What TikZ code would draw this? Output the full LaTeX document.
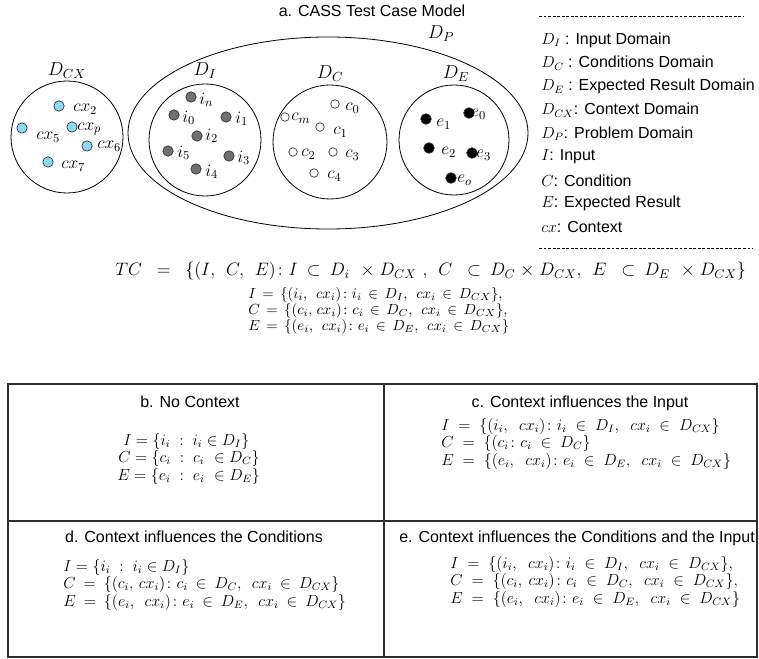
\RequirePackage{fix-cm}
\documentclass[tikz,border=0pt]{standalone}
\usepackage{amsmath,amssymb}
\usepackage{fontspec}
\setsansfont{Liberation Sans}
\usepackage{tikz}
\usetikzlibrary{positioning}
\definecolor{ctxFill}{RGB}{140,216,246}
\definecolor{inFill}{RGB}{112,112,112}
\definecolor{ruleGrey}{RGB}{45,45,45}
% thick / medium / thin math spaces, in mu
\newcommand\mathgaps[3]{\thickmuskip=#1mu\medmuskip=#2mu\thinmuskip=#3mu}

\begin{document}
\begin{tikzpicture}[x=0.75pt, y=-0.75pt,
  dom/.style={line width=0.6pt},
  spot/.style={circle, draw=black!80, line width=0.5pt, inner sep=0pt, minimum size=7.8pt},
  cxspot/.style={spot, fill=ctxFill},
  ispot/.style={spot, fill=inFill},
  cspot/.style={spot, fill=white, minimum size=6.4pt},
  espot/.style={spot, fill=black, minimum size=8pt},
  lbl/.style={anchor=west, inner sep=0pt, font=\fontsize{13}{15}\selectfont},
  dname/.style={inner sep=0pt, font=\fontsize{14}{16}\selectfont},
  caption/.style={inner sep=0pt, font=\sffamily\fontsize{12}{14}\selectfont},
  legitem/.style={anchor=west, inner sep=0pt, font=\sffamily\fontsize{12}{14}\selectfont},
  fml/.style={anchor=west, inner sep=0pt, font=\fontsize{12}{14}\selectfont},
  fmld/.style={fml, font=\fontsize{12}{14}\selectfont\mathgaps{9}{5}{6}},
  fmlwide/.style={fml, font=\fontsize{12}{14}\selectfont\mathgaps{10}{5}{7}},
  fmlsmall/.style={fml, font=\fontsize{11}{13}\selectfont\mathgaps{8}{5}{5}},
  rulesep/.style={line width=0.5pt, dash pattern=on 2.2pt off 1.2pt},
  tblline/.style={line width=0.9pt, ruleGrey}]
  \useasboundingbox (0,0) rectangle (759,659);

  % a. domains
  \node[caption] (ta) at (372,11) {a. CASS Test Case Model};
  \draw[dom] (67,137) circle[radius=56];
  \draw[dom] (328,133) ellipse[x radius=200, y radius=96];
  \draw[dom] (205,140) circle[radius=56];
  \draw[dom] (330,142) circle[radius=57];
  \draw[dom] (454,140) circle[radius=55];
  \node[dname] (nCX) at (67,71) {$D_{CX}$};
  \node[dname] (nP)  at (441,34) {$D_P$};
  \node[dname] (nI)  at (205,71) {$D_I$};
  \node[dname] (nC)  at (330,74) {$D_C$};
  \node[dname] (nE)  at (456,74) {$D_E$};

  \foreach \n/\dx/\dy/\lx/\ly in {2/59/106/73/109, 5/22/128/36/137, p/72/127/77/129, 6/87/146/97/146, 7/48/162/61/166}
  { \node[cxspot] (cx\n) at (\dx,\dy) {};
    \node[lbl] (cxl\n) at (\lx,\ly) {$cx_\n$}; }
  \foreach \n/\dx/\dy/\lx/\ly in {n/191/97/199/100, 0/174/115/182/118, 1/226/117/235/119, 2/197/136/205/136, 5/168/151/177/153, 3/229/156/237/158, 4/196/169/205/172}
  { \node[ispot] (i\n) at (\dx,\dy) {};
    \node[lbl] (il\n) at (\lx,\ly) {$i_\n$}; }
  \foreach \n/\dx/\dy/\lx/\ly in {0/335/104/345/108, m/285/117/291/118, 1/320/127/333/132, 2/293/152/301/154, 3/333/152/345/155, 4/314/173/327/176}
  { \node[cspot] (c\n) at (\dx,\dy) {};
    \node[lbl] (cl\n) at (\lx,\ly) {$c_\n$}; }
  \foreach \n/\dx/\dy/\lx/\ly in {1/426/119/436/124, 0/469/113/471/114, 2/429/148/441/152, 3/472/153/476/155, o/451/178/457/180}
  { \node[espot] (e\n) at (\dx,\dy) {};
    \node[lbl] (el\n) at (\lx,\ly) {$e_\n$}; }

  % legend
  \draw[rulesep] (539,16) -- (744,16);
  \foreach \t [count=\k from 0] in {{$D_I$ : Input Domain}, {$D_C$ : Conditions Domain},
      {$D_E$ : Expected Result Domain}, {$D_{CX}$: Context Domain}, {$D_P$: Problem Domain},
      {$I$: Input}, {$C$: Condition}, {$E$: Expected Result}, {$cx$: Context}}
    \node[legitem] (leg\k) at (541,{40+23.4*\k}) {\t};
  \draw[rulesep] (539,248) -- (753,248);

  % test case definition
  \node[fml, font=\fontsize{13.5}{15}\selectfont\mathgaps{9}{5}{5}] (tcdef) at (115,271)
    {$TC\ =\ \{(I,\ C,\ E)\colon I\subset D_i\ \times D_{CX}\ ,\ C\ \subset D_C\times D_{CX},\ E\ \subset D_E\ \times D_{CX}\}$};
  \node[fmlsmall] (aI) at (248,295) {$I=\{(i_i,\ cx_i)\colon i_i\in D_I,\ cx_i\in D_{CX}\},$};
  \node[fmlsmall] (aC) at (248,311) {$C=\{(c_i,cx_i)\colon c_i\in D_C,\ cx_i\in D_{CX}\},$};
  \node[fmlsmall] (aE) at (248,327) {$E=\{(e_i,\ cx_i)\colon e_i\in D_E,\ cx_i\in D_{CX}\}$};

  % b--e. cases
  \draw[tblline] (8,384) rectangle (757,657);
  \draw[tblline] (384,384) -- (384,657);
  \draw[tblline] (8,521) -- (757,521);

  \node[caption] (tb) at (190,402) {b. No Context};
  \node[fml] (bI) at (123,441) {$I=\{i_i\;:\;i_i\in D_I\}$};
  \node[fml] (bC) at (118,458.5) {$C=\{c_i\;:\;c_i\ \in D_C\}$};
  \node[fml] (bE) at (117,476) {$E=\{e_i\;:\;e_i\ \in D_E\}$};

  \node[caption] (tc) at (580,403) {c. Context influences the Input};
  \node[fmlwide] (cI) at (441,426) {$I=\{(i_i,\ cx_i)\colon i_i\in D_I,\ cx_i\in D_{CX}\}$};
  \node[fmlwide] (cC) at (441,443.5) {$C=\{(c_i\colon c_i\in D_C\}$};
  \node[fmlwide] (cE) at (441,461) {$E=\{(e_i,\ cx_i)\colon e_i\in D_E,\ cx_i\in D_{CX}\}$};

  \node[caption] (td) at (194,537) {d. Context influences the Conditions};
  \node[fml] (dI) at (63,567) {$I=\{i_i\;:\;i_i\in D_I\}$};
  \node[fmld] (dC) at (63,584.5) {$C=\{(c_i,cx_i)\colon c_i\in D_C,\ cx_i\in D_{CX}\}$};
  \node[fmld] (dE) at (63,602) {$E=\{(e_i,\ cx_i)\colon e_i\in D_E,\ cx_i\in D_{CX}\}$};

  \node[caption] (te) at (577,538) {e. Context influences the Conditions and the Input};
  \node[fmlwide] (eI) at (450,564) {$I=\{(i_i,\ cx_i)\colon i_i\in D_I,\ cx_i\in D_{CX}\},$};
  \node[fmlwide] (eC) at (450,581.5) {$C=\{(c_i,cx_i)\colon c_i\in D_C,\ cx_i\in D_{CX}\},$};
  \node[fmlwide] (eE) at (450,599) {$E=\{(e_i,\ cx_i)\colon e_i\in D_E,\ cx_i\in D_{CX}\}$};
\end{tikzpicture}
\end{document}
